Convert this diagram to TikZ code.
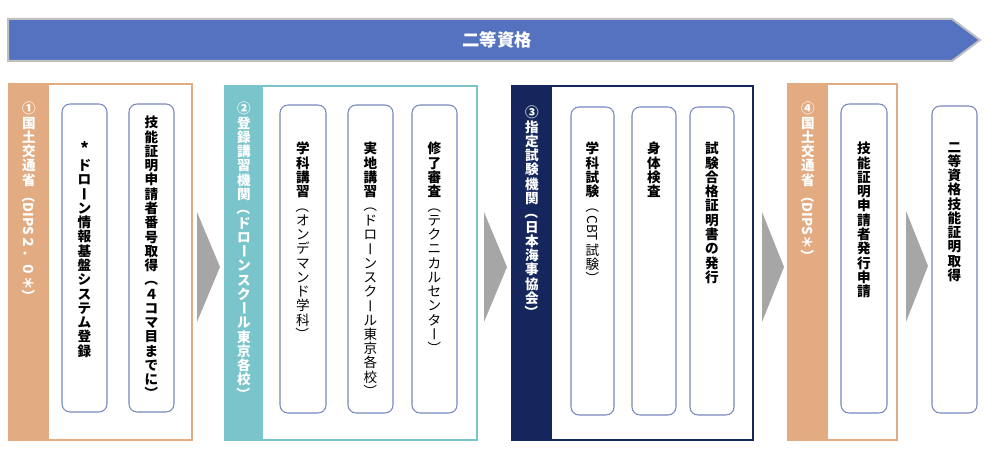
\documentclass[tikz,border=0pt]{standalone}
\usepackage{fontspec}
\usepackage{graphicx}
\setmainfont{Noto Sans CJK JP}

\definecolor{mlitorange}{HTML}{E2AB82}
\definecolor{schoolteal}{HTML}{7AC5CB}
\definecolor{examnavy}{HTML}{14265C}
\definecolor{bannerblue}{HTML}{5572C0}
\definecolor{bannergray}{HTML}{BFBFBF}
\definecolor{cardline}{HTML}{7887BE}
\definecolor{arrowgray}{HTML}{A6A6A6}

% vertical (tategaki) stacking
\makeatletter
\newcommand\tatelist[1]{\@tfor\tatechar:=#1\do{\hbox to 1em{\hss\tatechar\hss}}}
\newcommand\tate[2]{\vbox{\baselineskip=10.7pt\lineskip=0.4pt\lineskiplimit=0pt
  \bfseries\tatelist{#1}\mdseries\tatelist{#2}}}
\makeatother
\newcommand\tatemawasu[1]{\rotatebox[origin=c]{-90}{\vphantom{国}#1}}
\newcommand\kakkoL{\tatemawasu{（}}
\newcommand\kakkoR{\tatemawasu{）}}
\newcommand\chouon{\tatemawasu{ー}}
\newcommand\yoko[1]{\rotatebox[origin=c]{-90}{\vphantom{国}\,#1\,}}

\tikzset{
  stepcard/.style={draw=cardline, line width=0.8pt, rounded corners=6pt, fill=white},
  tatetext/.style={anchor=north, inner sep=0pt, font=\fontsize{10.2}{10.7}\selectfont},
  headtext/.style={tatetext, text=white},
  flowarrow/.style={fill=arrowgray, draw=none},
}

\begin{document}
\begin{tikzpicture}[x=0.75pt, y=-0.75pt]
  \useasboundingbox (0,0) rectangle (990,460);

  % banner
  \draw[fill=bannerblue, draw=bannergray, line width=1.5pt] (8,19) -- (952,19) -- (980,40) -- (952,61) -- (8,61) -- cycle;
  \node[text=white, font=\bfseries\fontsize{13}{13}\selectfont] (title) at (497,40) {二等資格};

  % (1) MLIT
  \draw[draw=mlitorange, line width=2pt] (9,84) rectangle (192,440);
  \fill[mlitorange] (9,83) rectangle (49,441);
  \draw[stepcard] (62,104) rectangle (107,412);
  \draw[stepcard] (129,104) rectangle (174,412);
  \node[headtext] (h1) at (29,102) {\tate{①国土交通省{\yoko{（DIPS２．０＊）}}}{}};
  \node[tatetext] (k1a) at (84.5,141) {\tate{{\raisebox{0.15em}{\large *}}ドロ\chouon ン情報基盤システム登録}{}};
  \node[tatetext] (k1b) at (151.5,116) {\tate{技能証明申請者番号取得\kakkoL ４コマ目までに\kakkoR}{}};

  \fill[flowarrow] (197,212) -- (220,267) -- (197,322) -- cycle;

  % (2) school
  \draw[draw=schoolteal, line width=2pt] (225,86) rectangle (477,440);
  \fill[schoolteal] (225,85) rectangle (263,441);
  \draw[stepcard] (280,105) rectangle (326,413);
  \draw[stepcard] (348,105) rectangle (393,413);
  \draw[stepcard] (412,105) rectangle (457,413);
  \node[headtext] (h2) at (244,102) {\tate{②登録講習機関\kakkoL ドロ\chouon ンスク\chouon ル東京各校\kakkoR}{}};
  \node[tatetext] (k2a) at (303,142) {\tate{学科講習}{\kakkoL オンデマンド学科\kakkoR}};
  \node[tatetext] (k2b) at (370.5,142) {\tate{実地講習}{\kakkoL ドロ\chouon ンスク\chouon ル東京各校\kakkoR}};
  \node[tatetext] (k2c) at (434.5,142) {\tate{修了審査}{\kakkoL テクニカルセンタ\chouon\kakkoR}};

  \fill[flowarrow] (484,212) -- (507,267) -- (484,322) -- cycle;

  % (3) exam body
  \draw[draw=examnavy, line width=2pt] (512,86) rectangle (753,440);
  \fill[examnavy] (512,85) rectangle (552,441);
  \draw[stepcard] (571,107) rectangle (614,415);
  \draw[stepcard] (632,107) rectangle (676,415);
  \draw[stepcard] (690,107) rectangle (734,415);
  \node[headtext] (h3) at (532,106) {\tate{③指定試験機関\kakkoL 日本海事協会\kakkoR}{}};
  \node[tatetext] (k3a) at (592.5,142) {\tate{学科試験}{\kakkoL{\yoko{CBT}}試験\kakkoR}};
  \node[tatetext] (k3b) at (654,142) {\tate{身体検査}{}};
  \node[tatetext] (k3c) at (712,142) {\tate{試験合格証明書の発行}{}};

  \fill[flowarrow] (762,212) -- (784,267) -- (762,322) -- cycle;

  % (4) MLIT again
  \draw[draw=mlitorange, line width=2pt] (788,84) rectangle (897,440);
  \fill[mlitorange] (788,83) rectangle (828,441);
  \draw[stepcard] (841,104) rectangle (887,413);
  \node[headtext] (h4) at (808,102) {\tate{④国土交通省{\yoko{（DIPS＊）}}}{}};
  \node[tatetext] (k4a) at (864,142) {\tate{技能証明申請者発行申請}{}};

  \fill[flowarrow] (906,211) -- (928,266) -- (906,322) -- cycle;

  % result
  \draw[stepcard] (932,106) rectangle (977,413);
  \node[tatetext] (k5) at (954.5,142) {\tate{二等資格技能証明取得}{}};
\end{tikzpicture}
\end{document}
